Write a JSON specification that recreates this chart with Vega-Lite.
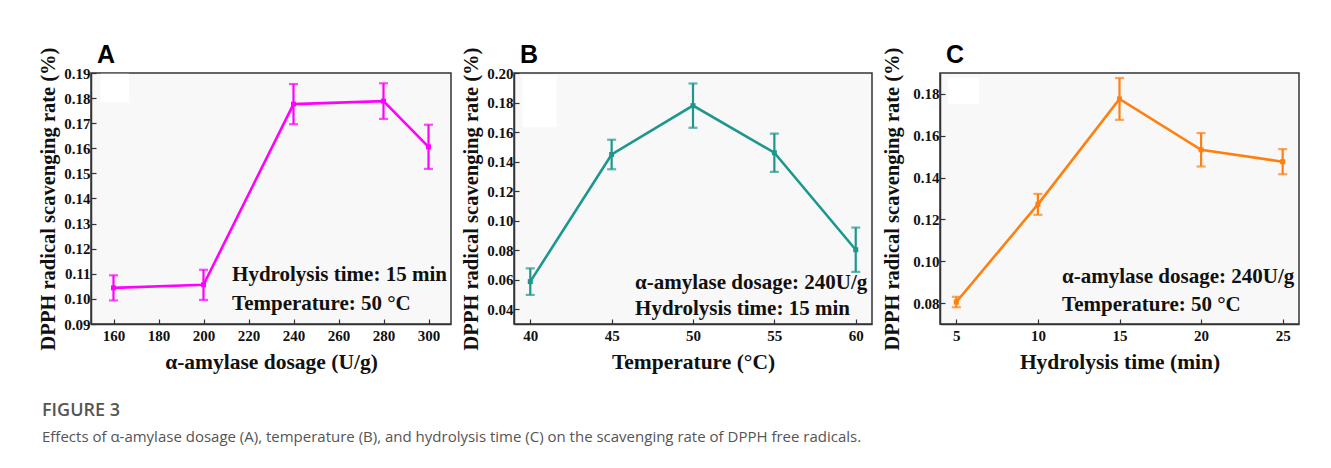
{
  "$schema": "https://vega.github.io/schema/vega-lite/v6.json",
  "background": "white",
  "padding": {"left": 37, "top": 42, "right": 10, "bottom": 5},
  "spacing": 8,
  "title": {
    "text": "FIGURE 3",
    "subtitle": "Effects of α-amylase dosage (A), temperature (B), and hydrolysis time (C) on the scavenging rate of DPPH free radicals.",
    "orient": "bottom",
    "anchor": "start",
    "frame": "bounds",
    "offset": 29,
    "font": "Open Sans",
    "fontSize": 18,
    "fontWeight": 600,
    "color": "#555555",
    "subtitleFont": "Open Sans",
    "subtitleFontSize": 15,
    "subtitleColor": "#555555",
    "subtitlePadding": 10,
    "dx": 4
  },
  "config": {
    "view": {"stroke": "#333333", "strokeWidth": 1.5, "fill": "#f8f8f8"},
    "axis": {
      "grid": false,
      "labelFont": "Liberation Serif",
      "labelFontWeight": "bold",
      "labelFontSize": 15,
      "labelColor": "#111111",
      "titleFont": "Liberation Serif",
      "titleFontWeight": "bold",
      "titleColor": "#111111",
      "domainColor": "#333333",
      "domainWidth": 1.5,
      "tickColor": "#333333",
      "tickSize": -5,
      "tickWidth": 1.2
    },
    "axisX": {"labelPadding": 9, "titlePadding": 8, "titleFontSize": 21.5},
    "axisY": {"labelPadding": 6, "titlePadding": 5, "titleFontSize": 20.5}
  },
  "hconcat": [
    {
      "width": 360,
      "height": 251,
      "title": {"text": "A", "anchor": "start", "frame": "group", "font": "Liberation Sans", "fontSize": 25, "fontWeight": "bold", "color": "#000000", "dx": 6, "offset": -21},
      "data": {"values": [
        {"x": 160, "y": 0.1044, "sd": 0.005},
        {"x": 200, "y": 0.1056, "sd": 0.006},
        {"x": 240, "y": 0.1776, "sd": 0.008},
        {"x": 280, "y": 0.1788, "sd": 0.0071},
        {"x": 300, "y": 0.1606, "sd": 0.0088}
      ]},
      "encoding": {
        "x": {"field": "x", "type": "quantitative", "scale": {"domain": [150, 310], "nice": false, "zero": false}, "axis": {"values": [160, 180, 200, 220, 240, 260, 280, 300], "title": "α-amylase dosage (U/g)"}},
        "y": {"field": "y", "type": "quantitative", "scale": {"domain": [0.09, 0.19], "nice": false, "zero": false}, "axis": {"values": [0.09, 0.10, 0.11, 0.12, 0.13, 0.14, 0.15, 0.16, 0.17, 0.18, 0.19], "format": ".2f", "title": "DPPH radical scavenging rate (%)"}}
      },
      "layer": [
        {"data": {"values": [{"x": 154.3, "x2": 166.9, "y": 0.1783, "y2": 0.1897}]}, "mark": {"type": "rect", "fill": "white"}, "encoding": {"x2": {"field": "x2"}, "y2": {"field": "y2"}}},
        {"mark": {"type": "errorbar", "ticks": {"size": 9}, "thickness": 2.2, "color": "#ff00ff"}, "encoding": {"yError": {"field": "sd"}}},
        {"mark": {"type": "line", "color": "#ff00ff", "strokeWidth": 2.6, "point": {"shape": "square", "size": 25, "filled": true, "color": "#ff00ff"}}, "encoding": {}},
        {"data": {"values": [
          {"x": 212.7, "y": 0.107, "label": "Hydrolysis time: 15 min"},
          {"x": 212.7, "y": 0.0955, "label": "Temperature: 50 °C"}
        ]}, "mark": {"type": "text", "align": "left", "baseline": "alphabetic", "font": "Liberation Serif", "fontWeight": "bold", "fontSize": 21, "color": "#111111"}, "encoding": {"text": {"field": "label"}}}
      ]
    },
    {
      "width": 358,
      "height": 251,
      "title": {"text": "B", "anchor": "start", "frame": "group", "font": "Liberation Sans", "fontSize": 25, "fontWeight": "bold", "color": "#000000", "dx": 6, "offset": -21},
      "data": {"values": [
        {"x": 40, "y": 0.0587, "sd": 0.009},
        {"x": 45, "y": 0.1448, "sd": 0.01},
        {"x": 50, "y": 0.1779, "sd": 0.015},
        {"x": 55, "y": 0.146, "sd": 0.013},
        {"x": 60, "y": 0.0803, "sd": 0.015}
      ]},
      "encoding": {
        "x": {"field": "x", "type": "quantitative", "scale": {"domain": [39, 61], "nice": false, "zero": false}, "axis": {"values": [40, 45, 50, 55, 60], "title": "Temperature (°C)"}},
        "y": {"field": "y", "type": "quantitative", "scale": {"domain": [0.03, 0.20], "nice": false, "zero": false}, "axis": {"values": [0.04, 0.06, 0.08, 0.10, 0.12, 0.14, 0.16, 0.18, 0.20], "format": ".2f", "title": "DPPH radical scavenging rate (%)"}}
      },
      "layer": [
        {"data": {"values": [{"x": 39.53, "x2": 41.62, "y": 0.1633, "y2": 0.1984}]}, "mark": {"type": "rect", "fill": "white"}, "encoding": {"x2": {"field": "x2"}, "y2": {"field": "y2"}}},
        {"mark": {"type": "errorbar", "ticks": {"size": 9}, "thickness": 2.2, "color": "#1d978e"}, "encoding": {"yError": {"field": "sd"}}},
        {"mark": {"type": "line", "color": "#1d978e", "strokeWidth": 2.6, "point": {"shape": "square", "size": 25, "filled": true, "color": "#1d978e"}}, "encoding": {}},
        {"data": {"values": [
          {"x": 46.44, "y": 0.0538, "label": "α-amylase dosage: 240U/g"},
          {"x": 46.44, "y": 0.0361, "label": "Hydrolysis time: 15 min"}
        ]}, "mark": {"type": "text", "align": "left", "baseline": "alphabetic", "font": "Liberation Serif", "fontWeight": "bold", "fontSize": 21, "color": "#111111"}, "encoding": {"text": {"field": "label"}}}
      ]
    },
    {
      "width": 359,
      "height": 251,
      "title": {"text": "C", "anchor": "start", "frame": "group", "font": "Liberation Sans", "fontSize": 25, "fontWeight": "bold", "color": "#000000", "dx": 6, "offset": -21},
      "data": {"values": [
        {"x": 5, "y": 0.0805, "sd": 0.0025},
        {"x": 10, "y": 0.1272, "sd": 0.005},
        {"x": 15, "y": 0.1776, "sd": 0.01},
        {"x": 20, "y": 0.1533, "sd": 0.008},
        {"x": 25, "y": 0.1476, "sd": 0.006}
      ]},
      "encoding": {
        "x": {"field": "x", "type": "quantitative", "scale": {"domain": [4, 26], "nice": false, "zero": false}, "axis": {"values": [5, 10, 15, 20, 25], "title": "Hydrolysis time (min)"}},
        "y": {"field": "y", "type": "quantitative", "scale": {"domain": [0.07, 0.19], "nice": false, "zero": false}, "axis": {"values": [0.08, 0.10, 0.12, 0.14, 0.16, 0.18], "format": ".2f", "title": "DPPH radical scavenging rate (%)", "titlePadding": 10}}
      },
      "layer": [
        {"data": {"values": [{"x": 4.49, "x2": 6.39, "y": 0.1753, "y2": 0.1877}]}, "mark": {"type": "rect", "fill": "white"}, "encoding": {"x2": {"field": "x2"}, "y2": {"field": "y2"}}},
        {"mark": {"type": "errorbar", "ticks": {"size": 9}, "thickness": 2.2, "color": "#ff7f0f"}, "encoding": {"yError": {"field": "sd"}}},
        {"mark": {"type": "line", "color": "#ff7f0f", "strokeWidth": 2.6, "point": {"shape": "square", "size": 25, "filled": true, "color": "#ff7f0f"}}, "encoding": {}},
        {"data": {"values": [
          {"x": 11.48, "y": 0.0896, "label": "α-amylase dosage: 240U/g"},
          {"x": 11.48, "y": 0.076, "label": "Temperature: 50 °C"}
        ]}, "mark": {"type": "text", "align": "left", "baseline": "alphabetic", "font": "Liberation Serif", "fontWeight": "bold", "fontSize": 21, "color": "#111111"}, "encoding": {"text": {"field": "label"}}}
      ]
    }
  ]
}
